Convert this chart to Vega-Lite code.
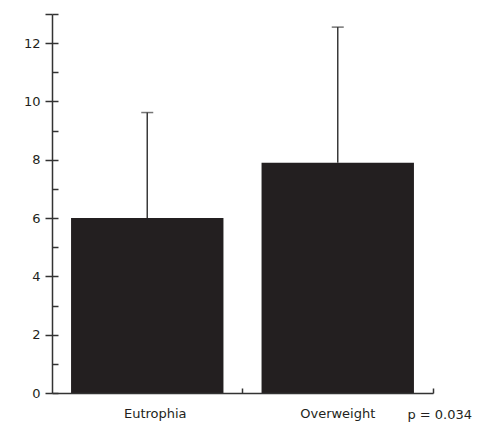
{
  "$schema": "https://vega.github.io/schema/vega-lite/v6.json",
  "width": 381,
  "height": 379,
  "autosize": {"type": "none"},
  "padding": {"left": 52, "top": 14, "right": 46, "bottom": 29},
  "background": "white",
  "config": {
    "view": {"stroke": null},
    "font": "DejaVu Sans",
    "axis": {"labelFont": "DejaVu Sans", "labelColor": "#231f20", "domainColor": "#333333", "tickColor": "#333333", "domainWidth": 1.5, "tickWidth": 1.5, "grid": false, "title": null}
  },
  "data": {"values": [
    {"group": "Eutrophia", "mean": 6.0, "upper": 9.62},
    {"group": "Overweight", "mean": 7.9, "upper": 12.55}
  ]},
  "resolve": {"axis": {"y": "independent"}},
  "layer": [
    {
      "mark": {"type": "bar", "color": "#231f20"},
      "encoding": {
        "x": {"field": "group", "type": "nominal", "sort": null,
              "scale": {"paddingInner": 0.2, "paddingOuter": 0.1},
              "axis": {"labelAngle": 0, "labelFontSize": 13, "bandPosition": 1.125, "tickSize": -5, "labelPadding": 19,
                       "labelOffset": {"condition": {"test": "datum.value == 'Eutrophia'", "value": 8}, "value": 0}, "zindex": 1}},
        "y": {"field": "mean", "type": "quantitative",
              "scale": {"domain": [0, 13], "nice": false, "zero": true},
              "axis": {"orient": "left", "values": [0, 2, 4, 6, 8, 10, 12, 13], "labelExpr": "datum.value % 2 == 0 ? datum.label : ''", "tickSize": 7, "labelPadding": 5, "labelFontSize": 13}}
      }
    },
    {
      "mark": {"type": "rule", "color": "#3a3a3a", "strokeWidth": 1.5},
      "encoding": {
        "x": {"field": "group", "type": "nominal", "sort": null},
        "y": {"field": "mean", "type": "quantitative",
              "axis": {"orient": "left", "domain": false, "labels": false, "values": [0, 1, 2, 3, 4, 5, 6, 7, 8, 9, 10, 11, 12, 13], "tickSize": -6}},
        "y2": {"field": "upper"}
      }
    },
    {
      "mark": {"type": "tick", "color": "#3a3a3a", "orient": "horizontal", "size": 12, "thickness": 1.5},
      "encoding": {
        "x": {"field": "group", "type": "nominal", "sort": null},
        "y": {"field": "upper", "type": "quantitative", "axis": null}
      }
    },
    {
      "data": {"values": [{"group": "Overweight", "label": "p = 0.034"}]},
      "mark": {"type": "text", "color": "#231f20", "fontSize": 13, "align": "center", "baseline": "middle", "dx": 102, "dy": 22},
      "encoding": {
        "x": {"field": "group", "type": "nominal", "sort": null},
        "y": {"datum": 0, "type": "quantitative", "axis": null},
        "text": {"field": "label"}
      }
    }
  ]
}
